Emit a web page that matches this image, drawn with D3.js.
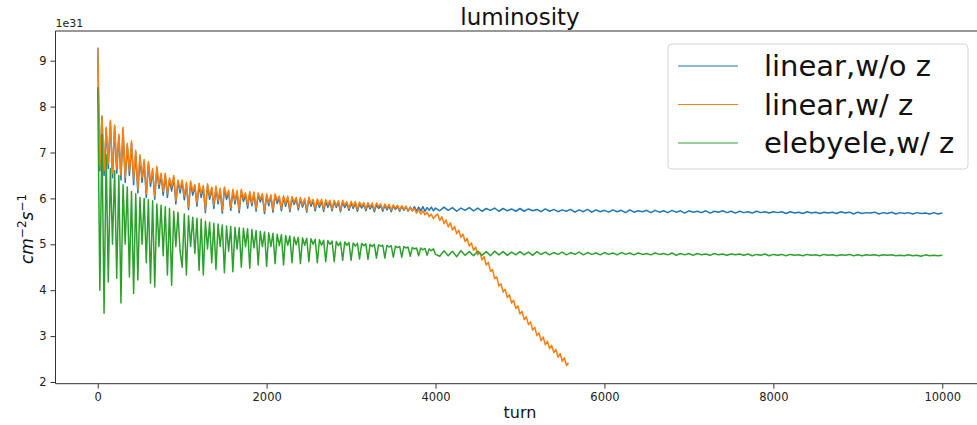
<!DOCTYPE html>
<html>
<head>
<meta charset="utf-8">
<script src="https://cdn.jsdelivr.net/npm/d3@7"></script>
<style>
  html, body { margin: 0; padding: 0; background: #fff; }
  svg { display: block; }
  text { font-family: "DejaVu Sans", sans-serif; }
</style>
</head>
<body>
<svg id="chart" width="977" height="425"></svg>
<script>
// ---------- data (luminosity in units of 1e31 cm^-2 s^-1) ----------
const chartTitle = "luminosity";
const seriesNames = ["linear,w/o z", "linear,w/ z", "elebyele,w/ z"];
const seriesColors = ["#1f77b4", "#ff7f0e", "#2ca02c"];
const xTicks = [0, 2000, 4000, 6000, 8000, 10000];
const yTicks = [2, 3, 4, 5, 6, 7, 8, 9];

// sampling grids (turn numbers)
const turnsEarly = d3.range(0, 4001, 25);        // 161 samples
const turnsLate = d3.range(4050, 10001, 50);     // 120 samples
const turnsOrangeTail = d3.range(4025, 5576, 25);// 63 samples

const blueEarly = [
  9.28, 6.60, 7.78, 6.50, 7.52, 6.65, 7.66, 6.45,
  7.56, 6.55, 7.36, 6.40, 7.50, 6.35, 7.16, 6.50,
  7.20, 6.30, 7.00, 6.12, 6.90, 6.35, 6.80, 6.02,
  6.76, 6.26, 6.60, 5.98, 6.66, 6.22, 6.50, 6.07,
  6.50, 6.02, 6.41, 6.16, 6.46, 5.88, 6.36, 6.12,
  6.36, 5.97, 6.31, 5.76, 6.34, 6.07, 6.26, 5.83,
  6.29, 6.02, 6.24, 5.69, 6.28, 5.98, 6.21, 5.78,
  6.23, 5.88, 6.18, 5.68, 6.21, 5.98, 6.14, 5.74,
  6.16, 5.88, 6.13, 5.69, 6.16, 5.93, 6.08, 5.79,
  6.11, 5.84, 6.10, 5.72, 6.08, 5.92, 6.06, 5.67,
  6.06, 5.84, 6.04, 5.70, 6.06, 5.89, 6.01, 5.73,
  6.02, 5.83, 6.01, 5.71, 6.00, 5.87, 5.98, 5.75,
  5.98, 5.81, 5.96, 5.70, 5.99, 5.83, 5.94, 5.73,
  5.95, 5.80, 5.94, 5.72, 5.93, 5.81, 5.92, 5.73,
  5.92, 5.80, 5.91, 5.71, 5.92, 5.80, 5.89, 5.74,
  5.90, 5.78, 5.89, 5.72, 5.88, 5.79, 5.87, 5.73,
  5.87, 5.77, 5.86, 5.71, 5.86, 5.78, 5.84, 5.72,
  5.85, 5.75, 5.84, 5.71, 5.83, 5.76, 5.82, 5.72,
  5.83, 5.74, 5.82, 5.72, 5.81, 5.73, 5.82, 5.72,
  5.81, 5.73, 5.82, 5.72, 5.80, 5.74, 5.81, 5.73,
  5.79
];
const blueLate = [
  5.73, 5.81, 5.74, 5.80, 5.72, 5.79, 5.74, 5.80, 5.73, 5.79,
  5.72, 5.78, 5.74, 5.79, 5.72, 5.78, 5.73, 5.77, 5.72, 5.78,
  5.72, 5.77, 5.73, 5.76, 5.71, 5.77, 5.72, 5.76, 5.71, 5.75,
  5.72, 5.76, 5.70, 5.75, 5.71, 5.76, 5.70, 5.75, 5.71, 5.74,
  5.70, 5.75, 5.71, 5.74, 5.69, 5.75, 5.70, 5.73, 5.71, 5.74,
  5.69, 5.74, 5.70, 5.73, 5.69, 5.74, 5.70, 5.73, 5.68, 5.73,
  5.70, 5.72, 5.69, 5.73, 5.68, 5.72, 5.70, 5.73, 5.69, 5.72,
  5.68, 5.72, 5.69, 5.71, 5.68, 5.72, 5.69, 5.71, 5.68, 5.71,
  5.69, 5.71, 5.67, 5.71, 5.68, 5.70, 5.67, 5.71, 5.68, 5.70,
  5.67, 5.70, 5.68, 5.70, 5.67, 5.71, 5.68, 5.70, 5.66, 5.70,
  5.67, 5.69, 5.68, 5.70, 5.66, 5.69, 5.67, 5.70, 5.66, 5.69,
  5.67, 5.69, 5.66, 5.69, 5.67, 5.68, 5.66, 5.69, 5.66, 5.68
];

const orangeEarly = [
  9.28, 6.70, 7.80, 6.60, 7.55, 6.75, 7.70, 6.55,
  7.60, 6.65, 7.40, 6.50, 7.55, 6.45, 7.20, 6.60,
  7.25, 6.40, 7.05, 6.20, 6.95, 6.45, 6.85, 6.10,
  6.80, 6.35, 6.65, 6.05, 6.70, 6.30, 6.55, 6.15,
  6.55, 6.10, 6.45, 6.25, 6.50, 5.95, 6.40, 6.20,
  6.40, 6.05, 6.35, 5.82, 6.38, 6.15, 6.30, 5.90,
  6.33, 6.10, 6.28, 5.75, 6.32, 6.05, 6.25, 5.85,
  6.27, 5.95, 6.22, 5.74, 6.25, 6.05, 6.18, 5.80,
  6.20, 5.95, 6.17, 5.75, 6.20, 6.00, 6.12, 5.85,
  6.15, 5.90, 6.14, 5.78, 6.12, 5.98, 6.10, 5.72,
  6.10, 5.90, 6.08, 5.75, 6.10, 5.95, 6.05, 5.78,
  6.06, 5.88, 6.05, 5.76, 6.04, 5.92, 6.02, 5.80,
  6.02, 5.86, 6.00, 5.74, 6.03, 5.88, 5.98, 5.78,
  5.99, 5.85, 5.98, 5.76, 5.97, 5.86, 5.96, 5.77,
  5.96, 5.84, 5.95, 5.75, 5.96, 5.85, 5.93, 5.78,
  5.94, 5.82, 5.93, 5.76, 5.92, 5.83, 5.91, 5.77,
  5.91, 5.81, 5.90, 5.75, 5.90, 5.82, 5.88, 5.76,
  5.88, 5.79, 5.87, 5.74, 5.86, 5.79, 5.85, 5.75,
  5.84, 5.76, 5.83, 5.72, 5.80, 5.73, 5.78, 5.68,
  5.76, 5.66, 5.73, 5.64, 5.70, 5.60, 5.66, 5.56,
  5.62
];
const orangeTail = [
  5.66, 5.52, 5.60, 5.45, 5.53, 5.38, 5.47, 5.31, 5.39, 5.23,
  5.31, 5.15, 5.22, 5.06, 5.13, 4.96, 5.03, 4.87, 4.94, 4.77,
  4.83, 4.66, 4.73, 4.55, 4.61, 4.41, 4.45, 4.25, 4.29, 4.09,
  4.14, 3.96, 4.02, 3.84, 3.90, 3.72, 3.78, 3.60, 3.66, 3.48,
  3.54, 3.36, 3.42, 3.25, 3.31, 3.13, 3.19, 3.01, 3.07, 2.90,
  2.98, 2.81, 2.89, 2.73, 2.80, 2.64, 2.71, 2.54, 2.62, 2.45,
  2.53, 2.36, 2.42
];

const greenEarly = [
  8.42, 4.00, 7.40, 3.50, 6.95, 4.18, 6.65, 5.00,
  6.60, 4.26, 6.50, 3.72, 6.30, 5.00, 6.25, 4.29,
  6.15, 3.93, 6.10, 4.22, 6.02, 5.00, 6.00, 4.60,
  5.97, 4.15, 5.95, 4.07, 5.88, 4.95, 5.85, 4.75,
  5.82, 4.33, 5.78, 4.11, 5.72, 4.95, 5.70, 4.85,
  4.50, 5.66, 4.33, 5.62, 4.95, 5.59, 4.80, 5.57,
  4.43, 5.55, 4.33, 5.50, 4.90, 5.48, 4.60, 5.46,
  4.45, 5.44, 4.95, 5.42, 4.38, 5.40, 4.85, 5.39,
  4.40, 5.37, 4.90, 5.36, 4.50, 5.35, 4.95, 5.34,
  4.48, 5.32, 4.92, 5.30, 4.55, 5.28, 4.95, 5.27,
  4.52, 5.25, 4.95, 5.24, 4.58, 5.22, 4.97, 5.21,
  4.55, 5.19, 4.98, 5.18, 4.60, 5.16, 4.99, 5.15,
  4.58, 5.14, 4.98, 5.13, 4.62, 5.12, 5.00, 5.11,
  4.60, 5.10, 4.98, 5.09, 4.62, 5.08, 5.00, 5.07,
  4.62, 5.06, 4.97, 5.05, 4.65, 5.05, 4.98, 5.04,
  4.65, 5.03, 4.96, 5.02, 4.68, 5.02, 4.97, 5.01,
  4.67, 5.00, 4.95, 5.00, 4.70, 4.99, 4.96, 4.98,
  4.70, 4.98, 4.94, 4.97, 4.72, 4.96, 4.93, 4.95,
  4.72, 4.95, 4.92, 4.94, 4.74, 4.93, 4.90, 4.92,
  4.75, 4.92, 4.88, 4.91, 4.76, 4.90, 4.86, 4.90,
  4.78
];
const greenLate = [
  4.74, 4.86, 4.75, 4.85, 4.73, 4.86, 4.76, 4.84, 4.75, 4.85,
  4.76, 4.84, 4.75, 4.85, 4.77, 4.84, 4.76, 4.83, 4.77, 4.84,
  4.77, 4.83, 4.76, 4.84, 4.78, 4.83, 4.77, 4.82, 4.78, 4.83,
  4.77, 4.82, 4.78, 4.83, 4.77, 4.82, 4.78, 4.81, 4.77, 4.82,
  4.78, 4.81, 4.77, 4.82, 4.78, 4.81, 4.77, 4.81, 4.78, 4.80,
  4.77, 4.81, 4.78, 4.80, 4.77, 4.81, 4.76, 4.80, 4.77, 4.80,
  4.76, 4.80, 4.77, 4.79, 4.76, 4.80, 4.77, 4.79, 4.76, 4.79,
  4.77, 4.79, 4.76, 4.79, 4.75, 4.78, 4.76, 4.79, 4.75, 4.78,
  4.76, 4.78, 4.75, 4.78, 4.76, 4.77, 4.75, 4.78, 4.76, 4.77,
  4.75, 4.78, 4.76, 4.77, 4.75, 4.77, 4.76, 4.78, 4.75, 4.77,
  4.75, 4.77, 4.76, 4.77, 4.75, 4.77, 4.76, 4.77, 4.75, 4.76,
  4.75, 4.77, 4.75, 4.76, 4.74, 4.77, 4.75, 4.76, 4.75, 4.76
];

// ---------- assemble series ----------
function zip(turns, values) {
  const n = Math.min(turns.length, values.length);
  const out = [];
  for (let i = 0; i < n; i++) out.push({ t: turns[i], v: values[i] });
  return out;
}
const series = [
  zip(turnsEarly, blueEarly).concat(zip(turnsLate, blueLate)),
  zip(turnsEarly, orangeEarly).concat(zip(turnsOrangeTail, orangeTail)),
  zip(turnsEarly, greenEarly).concat(zip(turnsLate, greenLate))
];

// ---------- layout ----------
const svg = d3.select("#chart");
const W = 977, H = 425;
svg.append("rect").attr("width", W).attr("height", H).attr("fill", "#fff");

const plot = { left: 55.5, right: 984.5, top: 31, bottom: 383.7 };
const x = d3.scaleLinear().domain([-500, 10500]).range([plot.left, plot.right]);
const y = d3.scaleLinear().domain([1.963, 9.647]).range([plot.bottom, plot.top]);

svg.append("defs").append("clipPath").attr("id", "clip")
  .append("rect")
  .attr("x", plot.left).attr("y", plot.top)
  .attr("width", plot.right - plot.left).attr("height", plot.bottom - plot.top);

// lines
const line = d3.line().x(d => x(d.t)).y(d => y(d.v));
const gLines = svg.append("g").attr("clip-path", "url(#clip)");
series.forEach((s, i) => {
  gLines.append("path")
    .datum(s)
    .attr("fill", "none")
    .attr("stroke", seriesColors[i])
    .attr("stroke-width", 1.5)
    .attr("stroke-linejoin", "round")
    .attr("d", line);
});

// axes
const xAxis = d3.axisBottom(x).tickValues(xTicks).tickSize(5).tickPadding(4).tickFormat(d3.format("d"));
const yAxis = d3.axisLeft(y).tickValues(yTicks).tickSize(5).tickPadding(4).tickFormat(d3.format("d"));

const gx = svg.append("g").attr("transform", `translate(0,${plot.bottom})`).call(xAxis);
const gy = svg.append("g").attr("transform", `translate(${plot.left},0)`).call(yAxis);
[gx, gy].forEach(g => {
  g.select(".domain").remove();
  g.selectAll(".tick line").attr("stroke", "#333").attr("stroke-width", 1);
  g.selectAll(".tick text").attr("fill", "#222").style("font-size", "11.5px")
    .style("font-family", "'DejaVu Sans', sans-serif");
});

// spines (right spine falls outside the canvas)
const spine = svg.append("g").attr("stroke", "#333").attr("stroke-width", 1).attr("fill", "none");
spine.append("line").attr("x1", plot.left).attr("x2", plot.right).attr("y1", plot.top).attr("y2", plot.top);
spine.append("line").attr("x1", plot.left).attr("x2", plot.right).attr("y1", plot.bottom).attr("y2", plot.bottom);
spine.append("line").attr("x1", plot.left).attr("x2", plot.left).attr("y1", plot.top).attr("y2", plot.bottom);
spine.append("line").attr("x1", plot.right).attr("x2", plot.right).attr("y1", plot.top).attr("y2", plot.bottom);

// offset text
svg.append("text").attr("x", plot.left).attr("y", 27)
  .attr("fill", "#222").style("font-size", "11px").text("1e31");

// title
svg.append("text").attr("x", (plot.left + plot.right) / 2).attr("y", 25)
  .attr("text-anchor", "middle").attr("fill", "#111").style("font-size", "23px").text(chartTitle);

// x label
svg.append("text").attr("x", (plot.left + plot.right) / 2).attr("y", 418)
  .attr("text-anchor", "middle").attr("fill", "#111").style("font-size", "16px").text("turn");

// y label (cm^-2 s^-1)
const yl = svg.append("text")
  .attr("transform", "translate(33,229) rotate(-90)")
  .attr("text-anchor", "middle").attr("fill", "#111")
  .style("font-size", "17px").style("font-style", "italic");
yl.append("tspan").text("cm");
yl.append("tspan").attr("dy", -7).style("font-size", "12px").style("font-style", "normal").text("−2");
yl.append("tspan").attr("dy", 7).text("s");
yl.append("tspan").attr("dy", -7).style("font-size", "12px").style("font-style", "normal").text("−1");

// legend
const lg = svg.append("g");
lg.append("rect").attr("x", 668).attr("y", 44).attr("width", 300).attr("height", 125)
  .attr("rx", 4).attr("ry", 4)
  .attr("fill", "#fff").attr("fill-opacity", 0.8)
  .attr("stroke", "#d6d6d6").attr("stroke-width", 1);
seriesNames.forEach((name, i) => {
  const cy = 66 + i * 38.5;
  lg.append("line").attr("x1", 678).attr("x2", 738).attr("y1", cy).attr("y2", cy)
    .attr("stroke", seriesColors[i]).attr("stroke-width", 1.2);
  lg.append("text").attr("x", 764).attr("y", cy + 10)
    .attr("fill", "#111").style("font-size", "29px").text(name);
});
</script>
</body>
</html>
